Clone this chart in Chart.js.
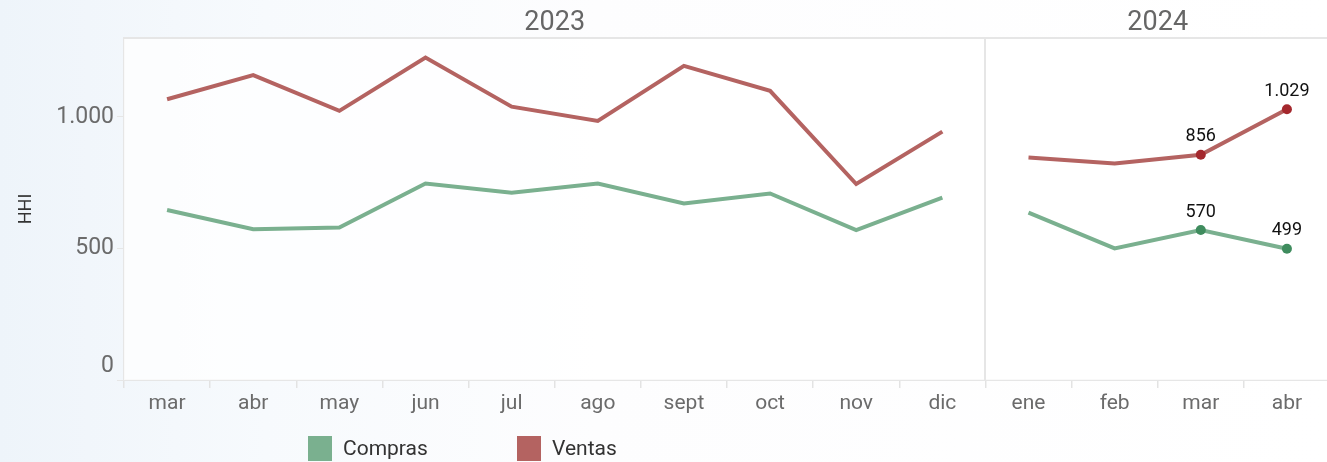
<!DOCTYPE html>
<html>
<head>
<meta charset="utf-8">
<script src="https://cdn.jsdelivr.net/npm/chart.js@4"></script>
<style>
  html, body { margin: 0; padding: 0; overflow: hidden; }
  body { background: linear-gradient(90deg, #eef4fa 0%, #f7fafd 20%, #fdfdfe 45%, #ffffff 100%); }
  #wrap { width: 1335px; height: 462px; position: relative; }
</style>
</head>
<body>
<div id="wrap"><canvas id="hhiChart"></canvas></div>
<script>
//----------------------
// Data
//----------------------

const months = ['mar', 'abr', 'may', 'jun', 'jul', 'ago', 'sept', 'oct', 'nov', 'dic', 'ene', 'feb', 'mar', 'abr'];
const years = ['2023', '2024'];
const monthsPerYear = [10, 4];
const compras = [646, 573, 580, 747, 712, 747, 671, 709, 570, 693, 636, 500, 570, 499];
const ventas = [1067, 1159, 1023, 1226, 1039, 985, 1194, 1099, 745, 944, 846, 823, 856, 1029];
const yTicks = [0, 500, 1000];
const labelled = [12, 13]; // points that get a dot and a value

const green = '#7ab08f';
const red = '#b46361';
const font = 'Roboto';

// 1000 -> "1.000"
function fmt(v) {
    if (v < 1000) return String(v);
    return Math.floor(v / 1000) + '.' + String(v % 1000).padStart(3, '0');
}

// no line between dic and ene (end of the first year)
const breakAt = monthsPerYear[0] - 1;

function series(label, data, color, dotColor) {
    return {
        label: label,
        data: data,
        borderColor: color,
        backgroundColor: color,
        borderWidth: 4,
        tension: 0,
        pointRadius: ctx => labelled.includes(ctx.dataIndex) ? 5 : 0,
        pointHoverRadius: ctx => labelled.includes(ctx.dataIndex) ? 5 : 0,
        pointBackgroundColor: dotColor,
        pointBorderWidth: 0,
        segment: {
            borderColor: ctx => ctx.p0DataIndex === breakAt ? 'rgba(0,0,0,0)' : undefined
        }
    };
}

//----------------------
// Panels, year headers
//----------------------

const panels = {
    id: 'panels',
    beforeDatasetsDraw(chart) {
        const {ctx, chartArea: a, scales: {x}} = chart;
        ctx.save();
        ctx.fillStyle = 'rgba(255,255,255,0.75)';
        ctx.fillRect(a.left, a.top, a.right - a.left, a.bottom - a.top);
        ctx.strokeStyle = '#e6e6e6';
        ctx.lineWidth = 2;
        ctx.beginPath();
        ctx.moveTo(a.left, a.top);
        ctx.lineTo(a.right, a.top);
        // separator between years
        let idx = 0;
        for (let i = 0; i < monthsPerYear.length - 1; i++) {
            idx += monthsPerYear[i];
            const sx = Math.round((x.getPixelForValue(idx - 1) + x.getPixelForValue(idx)) / 2);
            ctx.moveTo(sx, a.top);
            ctx.lineTo(sx, a.bottom);
        }
        ctx.stroke();
        ctx.restore();
    },
    afterDraw(chart) {
        const {ctx, chartArea: a, scales: {x}} = chart;
        const half = (x.getPixelForValue(1) - x.getPixelForValue(0)) / 2;
        ctx.save();
        ctx.fillStyle = '#666666';
        ctx.font = '27px ' + font;
        ctx.textAlign = 'center';
        ctx.textBaseline = 'middle';
        let start = 0;
        years.forEach((yr, i) => {
            const end = start + monthsPerYear[i] - 1;
            const left = x.getPixelForValue(start) - half;
            const right = x.getPixelForValue(end) + half;
            ctx.fillText(yr, (left + right) / 2, a.top - 15);
            start = end + 1;
        });
        ctx.restore();
    }
};

//----------------------
// Value labels on the last points
//----------------------

const valueLabels = {
    id: 'valueLabels',
    afterDatasetsDraw(chart) {
        const ctx = chart.ctx;
        ctx.save();
        ctx.fillStyle = '#111111';
        ctx.font = '18px ' + font;
        ctx.textAlign = 'center';
        ctx.textBaseline = 'middle';
        chart.data.datasets.forEach((ds, d) => {
            const meta = chart.getDatasetMeta(d);
            labelled.forEach(i => {
                const p = meta.data[i];
                ctx.fillText(fmt(ds.data[i]), p.x, p.y - 18);
            });
        });
        ctx.restore();
    }
};

//----------------------
// Legend (square boxes under the chart)
//----------------------

const boxLegend = {
    id: 'boxLegend',
    afterDraw(chart) {
        const ctx = chart.ctx;
        ctx.save();
        ctx.font = '21px ' + font;
        ctx.textBaseline = 'middle';
        const lx = [308, 517];
        chart.data.datasets.forEach((ds, d) => {
            ctx.fillStyle = ds.borderColor;
            ctx.fillRect(lx[d], 436, 24, 25);
            ctx.fillStyle = '#333333';
            ctx.fillText(ds.label, lx[d] + 35, 450);
        });
        ctx.restore();
    }
};

//----------------------
// Chart
//----------------------

const chart = new Chart(document.getElementById('hhiChart'), {
    type: 'line',
    data: {
        labels: months,
        datasets: [
            series('Compras', compras, green, '#3f8c5e'),
            series('Ventas', ventas, red, '#a4282d')
        ]
    },
    options: {
        responsive: true,
        maintainAspectRatio: false,
        animation: false,
        layout: { padding: { top: 38, right: 0, bottom: 42, left: 0 } },
        plugins: {
            legend: { display: false },
            tooltip: { enabled: false }
        },
        scales: {
            x: {
                offset: true,
                grid: { offset: true, drawOnChartArea: false, color: '#e3e3e3', tickLength: 8, lineWidth: 1.5 },
                border: { color: '#e6e6e6', width: 2 },
                ticks: { color: '#6b6b6b', font: { family: font, size: 21 }, padding: 3, autoSkip: false, maxRotation: 0 },
                afterFit: s => { s.height = 40; }
            },
            y: {
                min: 0,
                max: 1300,
                afterBuildTicks: s => { s.ticks = yTicks.map(v => ({ value: v })); },
                afterFit: s => { s.width = 124; },
                grid: { drawOnChartArea: false, color: '#e6e6e6', tickLength: 7 },
                border: { color: '#e6e6e6', width: 2 },
                ticks: {
                    color: '#6b6b6b',
                    font: { family: font, size: 23 },
                    padding: 3,
                    // the bottom label sits a little above the axis line
                    callback: v => v === 0 ? ['0', ''] : fmt(v)
                },
                title: {
                    display: true,
                    text: 'HHI',
                    color: '#333333',
                    font: { family: font, size: 18 },
                    padding: { top: 16, bottom: 0 }
                }
            }
        }
    },
    plugins: [panels, valueLabels, boxLegend]
});
</script>
</body>
</html>
